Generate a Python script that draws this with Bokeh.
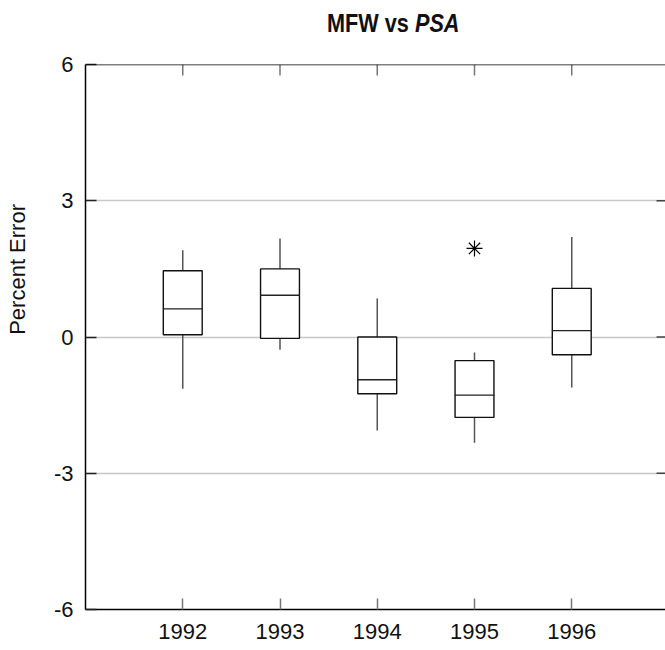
from bokeh.plotting import figure
from bokeh.models import Range1d, LinearAxis, FixedTicker, ColumnDataSource, Span, Div
from bokeh.layouts import column, row
from bokeh.embed import file_html
from bokeh.resources import INLINE

years = [1992, 1993, 1994, 1995, 1996]
whisker_high = [1.91, 2.17, 0.85, -0.34, 2.20]
q3 = [1.46, 1.50, 0.00, -0.52, 1.07]
median = [0.62, 0.92, -0.94, -1.28, 0.14]
q1 = [0.05, -0.03, -1.25, -1.77, -0.39]
whisker_low = [-1.14, -0.28, -2.06, -2.33, -1.11]
outlier_years = [1995]
outlier_values = [1.95]
y_ticks = [-6, -3, 0, 3, 6]
y_tick_labels = ["-6", "-3", "0", "3", "6"]
grid_ticks = [-3, 0, 3]

FONT = "Liberation Sans, Arial, sans-serif"
TFONT = "'Liberation Sans', Arial, sans-serif"

X0, X1 = 1991, 1996.964
Y0, Y1 = -6, 6
FW, FH = 580, 545
DIV_H = 40
LAB_W = 30

src = ColumnDataSource(dict(x=years, hi=whisker_high, q3=q3, med=median, q1=q1, lo=whisker_low))

ylabel_div = Div(
    text=('<span style="display:inline-block; white-space:nowrap; writing-mode:vertical-rl; '
          'transform:rotate(180deg);">Percent Error</span>'),
    width=LAB_W, height=650,
    styles={"font-family": TFONT, "font-size": "22px", "line-height": "26px",
            "color": "#111111", "padding-top": "204px", "padding-left": "5px",
            "margin": "0", "box-sizing": "border-box"},
)

title_div = Div(
    text=('<span style="display:inline-block; white-space:nowrap; transform:scaleX(0.834); '
          'transform-origin:left center;"><b>MFW vs <i>PSA</i></b></span>'),
    width=665 - LAB_W, height=DIV_H,
    styles={"font-family": TFONT, "font-size": "26px", "line-height": "30px",
            "color": "#111111", "padding-left": f"{327 - LAB_W}px", "padding-top": "8px",
            "margin": "0", "box-sizing": "border-box"},
)

p = figure(frame_width=FW, frame_height=FH, output_backend="svg", toolbar_location=None,
           x_range=Range1d(X0, X1), y_range=Range1d(Y0, Y1),
           min_border_left=85 - LAB_W, min_border_top=64 - DIV_H, min_border_bottom=41,
           min_border_right=0, x_axis_location=None, y_axis_location=None)
p.outline_line_color = None
p.background_fill_color = "white"
p.border_fill_color = "white"

# bottom axis
bottom = LinearAxis(ticker=FixedTicker(ticks=years))
bottom.major_label_text_font = FONT
bottom.major_label_text_font_size = "22px"
bottom.major_label_text_color = "#111111"
bottom.major_label_standoff = 14
bottom.major_tick_in = 11
bottom.major_tick_out = 0
bottom.minor_tick_line_color = None
bottom.major_tick_line_color = "#777777"
bottom.major_tick_line_width = 1.5
bottom.axis_line_color = "black"
bottom.axis_line_width = 1.5
p.add_layout(bottom, "below")

# left axis
left = LinearAxis(ticker=FixedTicker(ticks=y_ticks))
left.major_label_overrides = {t: s for t, s in zip(y_ticks, y_tick_labels)}
left.major_label_text_font = FONT
left.major_label_text_font_size = "22px"
left.major_label_text_color = "#111111"
left.major_label_standoff = 12
left.major_tick_in = 11
left.major_tick_out = 0
left.minor_tick_line_color = None
left.major_tick_line_color = "#222222"
left.major_tick_line_width = 1.5
left.axis_line_color = "black"
left.axis_line_width = 1.5
p.add_layout(left, "left")

# top frame line
p.add_layout(Span(location=Y1, dimension="width", line_color="black", line_width=1.5))

# grid
p.ygrid.ticker = FixedTicker(ticks=grid_ticks)
p.ygrid.grid_line_color = "#c8c8c8"
p.ygrid.grid_line_width = 1.5
p.xgrid.grid_line_color = None

# top ticks (inside) and right ticks (inside)
px_y = (Y1 - Y0) / FH
px_x = (X1 - X0) / FW
p.segment(x0=years, y0=[Y1] * len(years), x1=years, y1=[Y1 - 11 * px_y] * len(years),
          line_color="#777777", line_width=1.5)
p.segment(x0=[X1] * len(grid_ticks), y0=grid_ticks, x1=[X1 - 9 * px_x] * len(grid_ticks),
          y1=grid_ticks, line_color="#444444", line_width=1.5)

# whiskers
p.segment(x0="x", y0="q3", x1="x", y1="hi", source=src, line_color="#555555", line_width=1.5)
p.segment(x0="x", y0="q1", x1="x", y1="lo", source=src, line_color="#555555", line_width=1.5)
# boxes
p.vbar(x="x", top="q3", bottom="q1", width=0.4, source=src,
       fill_color="white", line_color="#111111", line_width=1.4)
# medians
p.rect(x="x", y="med", width=0.4, height=0.0001, source=src,
       fill_color=None, line_color="#222222", line_width=1.4)
# outlier
p.scatter(x=outlier_years, y=outlier_values, marker="asterisk", size=16,
          line_color="black", line_width=1.2)

layout = row(ylabel_div, column(title_div, p, spacing=0), spacing=0)
open("out.html", "w").write(file_html(layout, INLINE))
